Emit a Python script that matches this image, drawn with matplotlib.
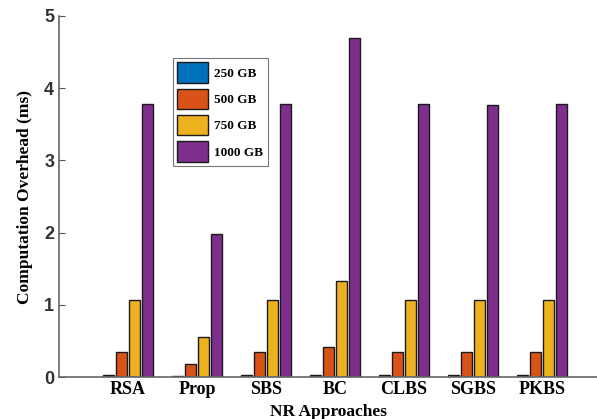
import matplotlib
matplotlib.use("Agg")
import matplotlib.pyplot as plt
import numpy as np

categories = ["RSA", "Prop", "SBS", "BC", "CLBS", "SGBS", "PKBS"]
series_names = ["250 GB", "500 GB", "750 GB", "1000 GB"]
gb250 = [0.03, 0.01, 0.03, 0.03, 0.03, 0.03, 0.03]
gb500 = [0.35, 0.18, 0.35, 0.42, 0.35, 0.35, 0.35]
gb750 = [1.07, 0.56, 1.07, 1.33, 1.07, 1.07, 1.07]
gb1000 = [3.78, 1.98, 3.78, 4.69, 3.78, 3.76, 3.78]
colors = ["#0072BD", "#D95319", "#EDB120", "#7E2F8E"]

fig = plt.figure(figsize=(5.97, 4.19), dpi=100)
ax = fig.add_axes([0.099, 0.10, 0.901, 0.862])

x = np.arange(1, len(categories) + 1)
width = 0.16
step = 0.19
for i, (vals, name, c) in enumerate(zip([gb250, gb500, gb750, gb1000], series_names, colors)):
    ax.bar(x + (i - 1.5) * step, vals, width, color=c, edgecolor="#1a1a1a",
           linewidth=1.0, label=name)

ax.set_xlim(0, 7.8)
ax.set_ylim(0, 5)
ax.set_xticks(x)
ax.set_xticklabels(categories, fontfamily="Liberation Serif", fontweight="bold", fontsize=13)
ax.set_yticks([0, 1, 2, 3, 4, 5])
ax.set_yticklabels(["0", "1", "2", "3", "4", "5"], fontfamily="Liberation Sans",
                   fontweight="bold", fontsize=13, color="#333333")
ax.tick_params(axis="both", direction="in", length=4, color="#555555")
ax.tick_params(axis="x", length=0, pad=3)
for s in ["top", "right"]:
    ax.spines[s].set_visible(False)
for s in ["left", "bottom"]:
    ax.spines[s].set_color("#666666")
    ax.spines[s].set_linewidth(1.2)

ax.set_ylabel("Computation Overhead (ms)", fontfamily="Liberation Serif",
              fontweight="bold", fontsize=12.5, labelpad=8)
ax.set_xlabel("NR Approaches", fontfamily="Liberation Serif",
              fontweight="bold", fontsize=12.5, labelpad=4)

leg = ax.legend(loc="upper left", bbox_to_anchor=(0.211, 0.884), frameon=True,
                fancybox=False, edgecolor="#555555", handlelength=2.3,
                handleheight=2.0, labelspacing=0.45, borderpad=0.35,
                handletextpad=0.5, borderaxespad=0,
                prop={"family": "Liberation Serif", "weight": "bold", "size": 9.5})
leg.get_frame().set_linewidth(0.8)

fig.savefig("out.png", dpi=100)
